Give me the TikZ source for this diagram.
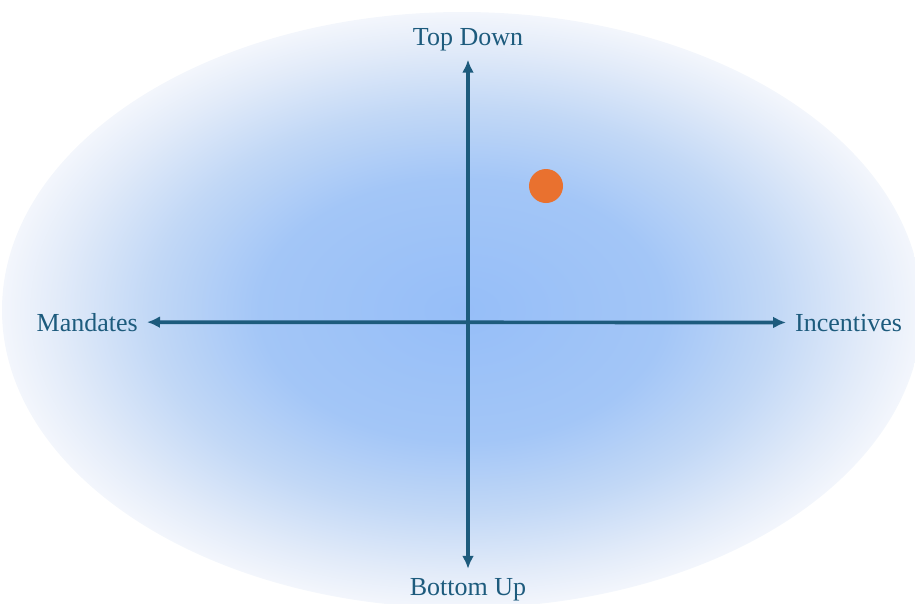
\documentclass[tikz,border=0pt]{standalone}
\usepackage{fontspec}
\setmainfont{Liberation Serif}
\usetikzlibrary{arrows.meta}

\definecolor{axisblue}{HTML}{1D5B7D}
\definecolor{dotorange}{HTML}{E9712F}
\pgfdeclareradialshading{fieldshade}{\pgfpoint{0bp}{0bp}}{%
  color(0bp)=({rgb,255:red,150;green,190;blue,248});
  color(11bp)=({rgb,255:red,163;green,198;blue,247});
  color(17bp)=({rgb,255:red,194;green,216;blue,246});
  color(22bp)=({rgb,255:red,226;green,235;blue,249});
  color(25bp)=({rgb,255:red,243;green,246;blue,252});
  color(50bp)=({rgb,255:red,243;green,246;blue,252})}

\begin{document}
\begin{tikzpicture}[x=0.02cm, y=-0.02cm,
  lbl/.style={text=axisblue, font=\fontsize{14.8}{17}\selectfont},
  axis/.style={axisblue, line width=2.1pt, {Latex[length=2.6mm,width=2.4mm]}-{Latex[length=2.6mm,width=2.4mm]}, shorten <=0.06cm, shorten >=0.06cm}]
  \useasboundingbox (0,0) rectangle (915,603);
  \shade[shading=fieldshade] (462,310) ellipse [x radius=460, y radius=298];

  \node[lbl, anchor=base] (top) at (468,45) {Top Down};
  \node[lbl, anchor=base] (bottom) at (468,595) {Bottom Up};
  \node[lbl, anchor=base east] (mandates) at (144,331) {Mandates};
  \node[lbl, anchor=base west] (incentives) at (789,331) {Incentives};

  \draw[axis] (bottom) -- (top);
  \draw[axis] (mandates) -- (incentives);

  \fill[dotorange] (546,186) circle (17);
\end{tikzpicture}
\end{document}
